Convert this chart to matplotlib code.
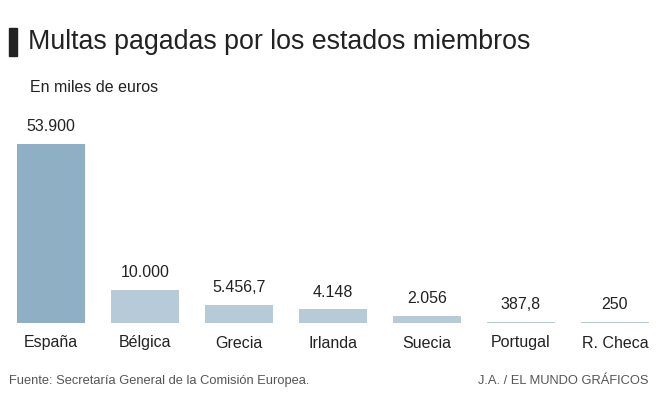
import matplotlib.pyplot as plt
from matplotlib.patches import Rectangle

plt.rcParams['font.family'] = ['Liberation Sans', 'DejaVu Sans']

paises = ['España', 'Bélgica', 'Grecia', 'Irlanda', 'Suecia', 'Portugal', 'R. Checa']
multas = [53900, 10000, 5456.7, 4148, 2056, 387.8, 250]
etiquetas = ['53.900', '10.000', '5.456,7', '4.148', '2.056', '387,8', '250']
colores = ['#8eafc4', '#b7cad7', '#b7cad7', '#b7cad7', '#b7cad7', '#b7cad7', '#b7cad7']

W, H = 660, 398
fig = plt.figure(figsize=(W / 100, H / 100), dpi=100)

ax = fig.add_axes([4 / W, 75 / H, 658 / W, 179 / H])
x = range(len(paises))
ax.bar(x, multas, width=0.723, color=colores, edgecolor='none')
ax.set_xlim(-0.5, 6.5)
ax.set_ylim(0, 53900)
ax.axis('off')

for i, (v, lab) in enumerate(zip(multas, etiquetas)):
    ax.annotate(lab, (i, v), xytext=(0, 7), textcoords='offset points',
                ha='center', va='bottom', fontsize=11.5, color='#222222')
    ax.annotate(paises[i], (i, 0), xytext=(0, -9), textcoords='offset points',
                ha='center', va='top', fontsize=11.5, color='#222222')

# titulo
fig.patches.append(Rectangle((9 / W, 1 - 56 / H), 8 / W, 28 / H,
                             transform=fig.transFigure, color='#222222'))
fig.text(28 / W, 1 - 42 / H, 'Multas pagadas por los estados miembros',
         fontsize=19.3, color='#222222', va='center', ha='left')
fig.text(30 / W, 1 - 88 / H, 'En miles de euros', fontsize=11.5,
         color='#222222', va='center', ha='left')

fig.text(9 / W, 1 - 381 / H, 'Fuente: Secretaría General de la Comisión Europea.',
         fontsize=9.3, color='#555555', va='center', ha='left')
fig.text(648 / W, 1 - 381 / H, 'J.A. / EL MUNDO GRÁFICOS',
         fontsize=9.3, color='#555555', va='center', ha='right')

fig.savefig('out.png', dpi=100, facecolor='white')
